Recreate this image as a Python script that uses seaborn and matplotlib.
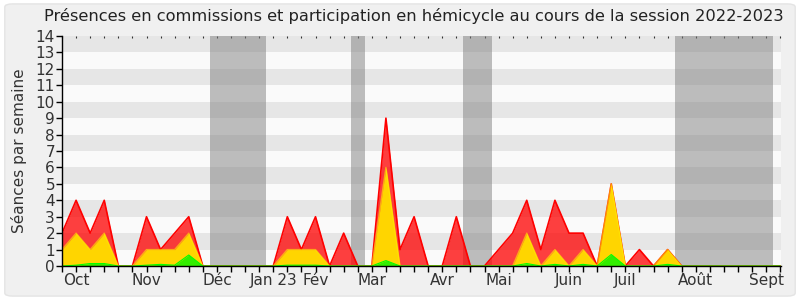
import matplotlib
matplotlib.use("Agg")
import matplotlib.pyplot as plt
from matplotlib.patches import FancyBboxPatch
import numpy as np
import pandas as pd
import seaborn as sns

# ---- data (weekly values, session 2022-2023) ----
weeks = list(range(52))
total = [2, 4, 2, 4, 0, 0, 3, 1, 2, 3,
         0, 0, 0, 0, 0, 0, 3, 1, 3, 0,
         2, 0, 0, 9, 1, 3, 0, 0, 3, 0,
         0, 1, 2, 4, 1, 4, 2, 2, 0, 5,
         0, 1, 0, 1, 0, 0, 0, 0, 0, 0, 0, 0]
commission = [1, 2, 1, 2, 0, 0, 1, 1, 1, 2,
              0, 0, 0, 0, 0, 0, 1, 1, 1, 0,
              0, 0, 0, 6, 0, 0, 0, 0, 0, 0,
              0, 0, 0, 2, 0, 1, 0, 1, 0, 5,
              0, 0, 0, 1, 0, 0, 0, 0, 0, 0, 0, 0]
hemicycle = [0, 0.05, 0.15, 0.15, 0, 0, 0.05, 0.1, 0.05, 0.67,
             0, 0, 0, 0, 0, 0, 0.05, 0.05, 0.05, 0,
             0, 0, 0, 0.33, 0, 0, 0, 0, 0, 0,
             0, 0, 0, 0.15, 0, 0.1, 0, 0.1, 0, 0.7,
             0, 0, 0, 0.1, 0, 0, 0, 0, 0, 0, 0, 0]
month_labels = ["Oct", "Nov", "Déc", "Jan 23", "Fév", "Mar", "Avr",
                "Mai", "Juin", "Juil", "Août", "Sept"]
month_weeks = [1, 6, 11, 15, 18, 22, 27, 31, 36, 40, 45, 50]
vacations = [(10.5, 14.5), (20.5, 21.5), (28.5, 30.5), (43.5, 50.5)]

df = pd.DataFrame({"week": weeks, "total": total,
                   "commission": commission, "hemicycle": hemicycle})

sns.set_theme(style="white")
plt.rcParams["font.family"] = ["DejaVu Sans Condensed", "Liberation Sans Narrow", "DejaVu Sans"]

fig = plt.figure(figsize=(8, 3), dpi=100, facecolor="white")
bg = FancyBboxPatch((0.006, 0.013), 0.988, 0.974, boxstyle="round,pad=0,rounding_size=0.01",
                    transform=fig.transFigure, facecolor="#f0f0f0", edgecolor="#e4e4e4",
                    linewidth=1, zorder=-10)
fig.patches.append(bg)

ax = fig.add_axes([0.0775, 0.1133, 0.8987, 0.7667])
ax.set_facecolor("#fafafa")

ymax = 14
for lo in range(1, ymax, 2):
    ax.axhspan(lo, lo + 1, color="#e6e6e6", lw=0, zorder=0)
for a, b in vacations:
    ax.axvspan(a, b, color="#808080", alpha=0.5, lw=0, zorder=1)

ax.fill_between(df["week"], 0, df["total"], color=(1, 0, 0, 0.75), lw=0, zorder=2)
sns.lineplot(data=df, x="week", y="total", ax=ax, color="#ff0000", lw=1.2, zorder=3)
ax.fill_between(df["week"], 0, df["commission"], color="#ffd500", lw=0, zorder=4)
sns.lineplot(data=df, x="week", y="commission", ax=ax, color="#ffee00", lw=1.0, alpha=0.6, zorder=5)
ax.fill_between(df["week"], 0, df["hemicycle"], color="#33ee00", lw=0, zorder=6)
sns.lineplot(data=df, x="week", y="hemicycle", ax=ax, color="#00ff00", lw=0.8, zorder=7)

ax.set_xlim(0, 51.05)
ax.set_ylim(0, ymax)
ax.set_xticks(weeks)
lab = {w: l for w, l in zip(month_weeks, month_labels)}
ax.set_xticklabels([lab.get(w, "") for w in weeks])
ax.set_yticks(range(0, ymax + 1))
ax.tick_params(axis="both", direction="out", length=4, width=1, color="black",
               labelsize=11, labelcolor="#333333", pad=1, bottom=True, left=True)
for s in ["top", "right"]:
    ax.spines[s].set_visible(False)
for s in ["left", "bottom"]:
    ax.spines[s].set_color("black")
    ax.spines[s].set_linewidth(1)
    ax.spines[s].set_zorder(10)

sec = ax.secondary_xaxis("top")
sec.set_xticks(weeks)
sec.tick_params(direction="in", length=1.2, width=0.8, color="#333333", labeltop=False)
sec.spines["top"].set_visible(False)

ax.set_xlabel("")
ax.set_ylabel("Séances par semaine", fontsize=11, color="#333333", labelpad=6)

fig.text(0.517, 0.947, "Présences en commissions et participation en hémicycle au cours de la session 2022-2023",
         ha="center", va="center", fontsize=11.7, color="#222222")

fig.savefig("out.png", dpi=100, facecolor=fig.get_facecolor())
